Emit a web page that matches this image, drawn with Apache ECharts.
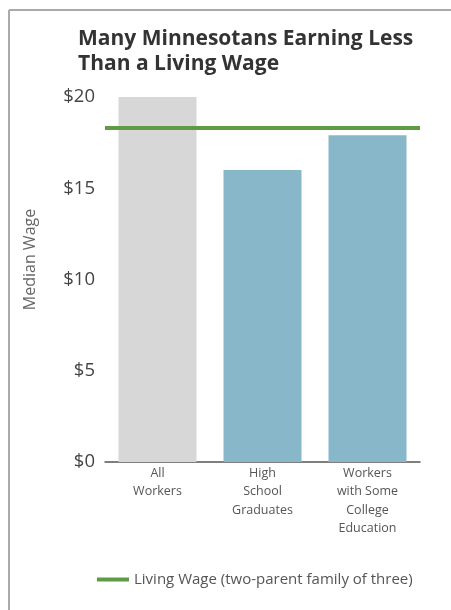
<!DOCTYPE html>
<html lang="en">

<head>
  <meta charset="UTF-8">
  <title>Many Minnesotans Earning Less Than a Living Wage</title>
  <script src="https://cdn.jsdelivr.net/npm/echarts@6/dist/echarts.min.js"></script>
</head>

<body style="margin: 0;">
  <div id="chart" style="width: 451px; height: 610px;"></div>
  <script>
    // data
    const categories = ['All\nWorkers', 'High\nSchool\nGraduates', 'Workers\nwith Some\nCollege\nEducation']
    const medianWage = [20, 16, 17.9]
    const livingWage = 18.3
    const yTicks = [0, 5, 10, 15, 20]

    const gray = '#d7d7d7'
    const blue = '#88b7c9'
    const green = '#5f9a45'

    const chart = echarts.init(document.getElementById('chart'))

    const option = {
      backgroundColor: '#fff',
      textStyle: { fontFamily: 'Open Sans' },
      title: {
        text: 'Many Minnesotans Earning Less\nThan a Living Wage',
        left: 73,
        top: 22,
        textStyle: { fontSize: 21, fontWeight: 'bold', color: '#333', lineHeight: 25 }
      },
      // frame: only top and left edges show in the picture
      graphic: [
        { type: 'line', shape: { x1: 9, y1: 10, x2: 451, y2: 10 }, style: { stroke: '#aaa', lineWidth: 2 } },
        { type: 'line', shape: { x1: 9, y1: 10, x2: 9, y2: 610 }, style: { stroke: '#aaa', lineWidth: 2 } }
      ],
      legend: {
        left: 92,
        top: 567,
        itemWidth: 32,
        itemHeight: 4,
        itemGap: 6,
        textStyle: { fontSize: 15, color: '#555' },
        data: [{ name: 'Living Wage (two-parent family of three)', icon: 'rect', itemStyle: { color: green } }]
      },
      grid: { left: 105, right: 31, top: 97, bottom: 148 },
      xAxis: {
        type: 'category',
        data: categories,
        axisLine: { lineStyle: { color: '#555', width: 1.5 } },
        axisTick: { show: false },
        axisLabel: { fontSize: 12.5, color: '#555', lineHeight: 18.5, margin: 2, interval: 0, verticalAlign: 'top' }
      },
      yAxis: {
        type: 'value',
        min: yTicks[0],
        max: yTicks[yTicks.length - 1],
        interval: 5,
        name: 'Median Wage',
        nameLocation: 'middle',
        nameGap: 67,
        nameTextStyle: { fontSize: 16, color: '#666', padding: [0, 0, 0, 40] },
        axisLine: { show: false },
        axisTick: { show: false },
        splitLine: { show: false },
        axisLabel: { fontSize: 18.5, color: '#444', margin: 10, formatter: v => '$' + v }
      },
      series: [
        {
          name: 'Median Wage',
          type: 'bar',
          barWidth: 78,
          data: medianWage.map((v, i) => ({ value: v, itemStyle: { color: i === 0 ? gray : blue } })),
          markLine: {
            silent: true,
            symbol: 'none',
            label: { show: false },
            lineStyle: { color: green, width: 4, type: 'solid' },
            data: [{ yAxis: livingWage }]
          }
        },
        {
          name: 'Living Wage (two-parent family of three)',
          type: 'line',
          data: [],
          itemStyle: { color: green }
        }
      ]
    }

    chart.setOption(option)
  </script>
</body>

</html>
